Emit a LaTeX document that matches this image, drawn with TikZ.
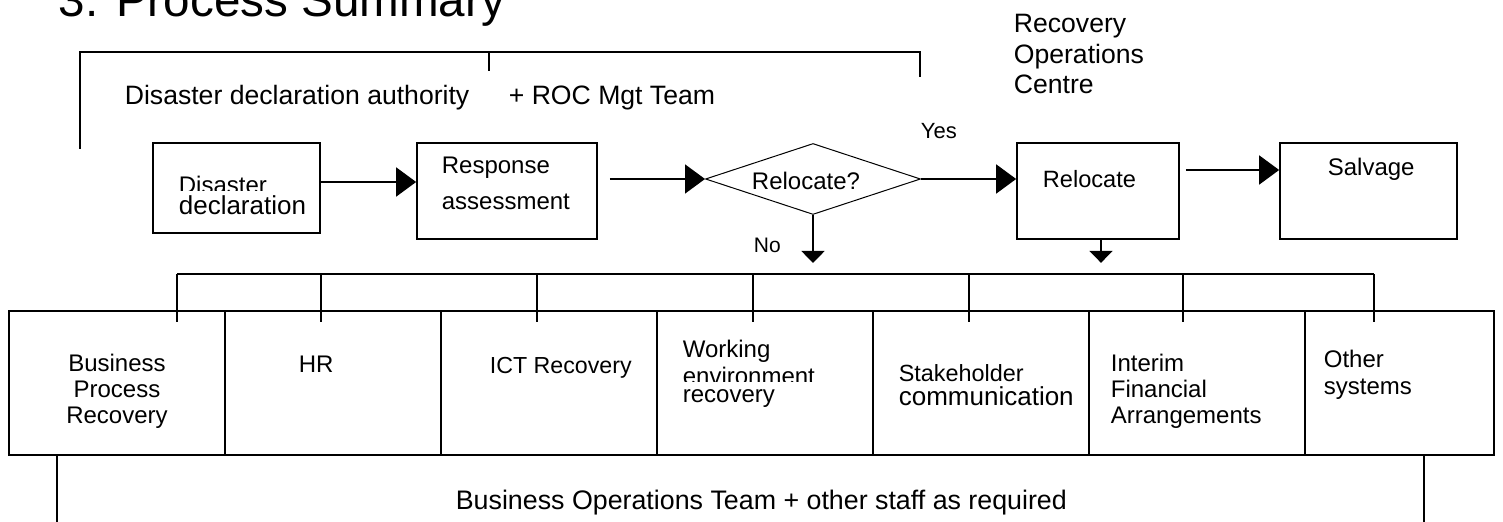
\documentclass[tikz,border=0pt]{standalone}
\usepackage{fontspec}
\setmainfont{Liberation Sans}
\usetikzlibrary{arrows.meta,shapes.geometric}

\begin{document}
\begin{tikzpicture}[x=0.5pt,y=-0.5pt,line width=0.85pt,
  box/.style={draw,rectangle,inner sep=0pt,minimum height=48pt},
  cell/.style={draw,rectangle,inner sep=0pt,minimum height=72pt},
  flow/.style={-{Triangle[length=10pt,width=14.5pt]}},
  drop/.style={-{Triangle[length=6pt,width=11.5pt]}},
  txt/.style={inner sep=0pt,anchor=base west,font=\fontsize{12}{13}\selectfont},
  big/.style={txt,font=\fontsize{13.3}{15.25}\selectfont}]

% 画布
\useasboundingbox (0,0) rectangle (1503,522);

% 标题
\node[txt,font=\fontsize{23.8}{28}\selectfont] (title) at (58,17) {3. Process Summary};

% 上方括线
\draw (80,149) -- (80,52) -- (920,52) -- (920,77);
\draw (489,52) -- (489,71);
\node[big] (auth) at (124,105) {Disaster declaration authority};
\node[big] (rocmgt) at (508,105) {+ ROC Mgt Team};
\node[big,align=left] (roc) at (1013,94) {Recovery\\Operations\\Centre};

% 流程框
\node[box,minimum width=83.5pt,minimum height=45pt] (dis) at (236.5,188) {};
\node[box,minimum width=90pt] (resp) at (507,191) {};
\node[draw,diamond,line width=0.5pt,inner sep=0pt,
      minimum width=107.5pt,minimum height=35.5pt] (ask) at (813,179) {};
\node[box,minimum width=81pt] (reloc) at (1098,191) {};
\node[box,minimum width=88.5pt] (salv) at (1368.5,191) {};

% 框内文字
\begin{scope}
  \clip (153,143) rectangle (320,191);
  \node[txt] (dis1) at (178,194) {Disaster};
\end{scope}
\node[txt,font=\fontsize{13}{14}\selectfont] (dis2) at (178,215) {declaration};
\node[txt] (resp1) at (441,174) {Response};
\node[txt] (resp2) at (441,210) {assessment};
\node[txt,anchor=base] (asktxt) at (806,190) {Relocate?};
\node[txt,font=\fontsize{11.8}{13}\selectfont] (reloctxt) at (1042,188) {Relocate};
\node[txt] (salvtxt) at (1327,176) {Salvage};
\node[txt,font=\fontsize{11}{13}\selectfont] (yes) at (920,139) {Yes};
\node[txt,font=\fontsize{10.5}{13}\selectfont] (no) at (753,253) {No};

% 箭头
\coordinate (a1) at ([yshift=3pt]dis.east);
\draw[flow] (a1) -- (a1 -| resp.west);
\draw[flow] ([xshift=6pt,yshift=6pt]resp.east) -- (ask.west);
\draw[flow] (ask.east) -- (ask.east -| reloc.west);
\coordinate (a4) at ([xshift=3pt,yshift=10.5pt]reloc.east);
\draw[flow] (a4) -- (a4 -| salv.west);
\coordinate (noend) at ([yshift=-24pt]ask.south);
\draw[drop] (ask.south) -- (noend);
\coordinate (relend) at ([xshift=1.5pt,yshift=-11.5pt]reloc.south);
\draw[drop] ([xshift=1.5pt]reloc.south) -- (relend);

% 下方分组线
\draw (177,274) -- (1374,274);
\foreach \t in {177,321,537,753,969,1183,1374}
  \draw (\t,274) -- (\t,322);

% 下方七格
\foreach \xa/\xb [count=\i] in {9/225,225/441,441/657,657/873,873/1089,1089/1305,1305/1494}{
  \pgfmathsetmacro\w{(\xb-\xa)/2}
  \node[cell,minimum width=\w pt] (c\i) at ({(\xa+\xb)/2},383) {};
}

% 格内文字
\node[txt,anchor=base,align=center] (bpr) at (117,424) {Business\\Process\\Recovery};
\node[txt] (hr) at (298,373) {HR};
\node[txt,font=\fontsize{11.6}{13}\selectfont] (ict) at (489,374) {ICT Recovery};
\node[txt] (work1) at (682,358) {Working};
\begin{scope}
  \clip (657,311) rectangle (873,382);
  \node[txt] (work2) at (682,385) {environment};
\end{scope}
\node[txt] (work3) at (682,403) {recovery};
\node[txt,font=\fontsize{11.7}{13}\selectfont] (stake1) at (898,382) {Stakeholder};
\node[txt,font=\fontsize{13}{14}\selectfont] (stake2) at (898,406) {communication};
\node[txt,align=left] (fin) at (1110,424) {Interim\\Financial\\Arrangements};
\node[txt,align=left,font=\fontsize{12}{13.5}\selectfont] (other) at (1323,395) {Other\\systems};

% 底部括线
\draw (57,455) -- (57,530);
\draw (1424,455) -- (1424,530);
\node[txt,font=\fontsize{13.4}{15}\selectfont] (bot) at (455,510) {Business Operations Team + other staff as required};

\end{tikzpicture}
\end{document}
